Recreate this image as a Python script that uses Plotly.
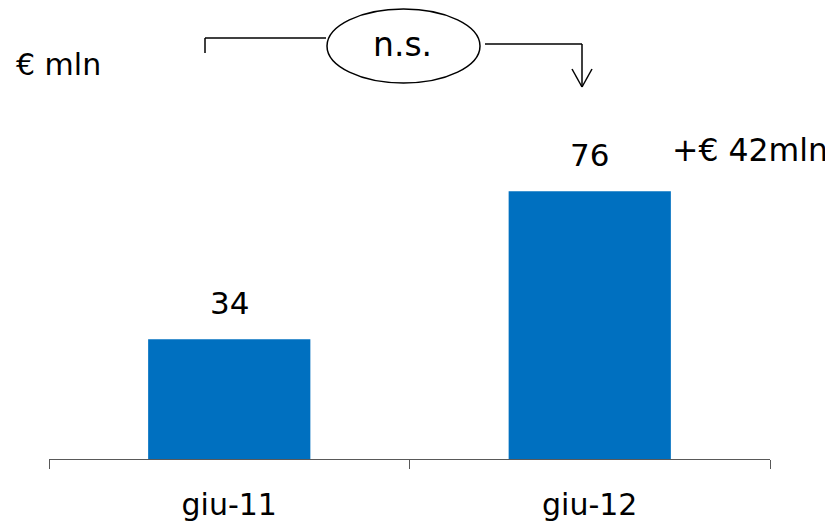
import plotly.graph_objects as go

categories = ["giu-11", "giu-12"]
values = [34, 76]
value_labels = ["34", "76"]
unit_label = "€ mln"
delta_label = "+€ 42mln"
test_label = "n.s."

# page has an 8px body margin; figure sized to fit the 833x523 window
OFF = 8
W, H = 833 - OFF, 523 - OFF
L = 49 - OFF
R = W - (770 - OFF)
B = H - (459 - OFF)
T = 0
PW, PH = W - L - R, H - T - B

def px(x):
    return (x - OFF - L) / PW

def py(y):
    return (H - B - (y - OFF)) / PH

FONT = "DejaVu Sans"
BAR_COLOR = "#0070C0"

fig = go.Figure()
fig.add_trace(go.Bar(
    x=categories, y=values, width=0.45,
    marker=dict(color=BAR_COLOR, line=dict(width=0)),
    hoverinfo="skip",
))

annotations = []
for c, v, t in zip(categories, values, value_labels):
    annotations.append(dict(x=c, y=v, xref="x", yref="y", text=t, showarrow=False,
                            yanchor="bottom", yshift=16,
                            font=dict(family=FONT, size=31, color="#000000")))

annotations.append(dict(x=px(14), y=py(65), xref="paper", yref="paper", text=unit_label,
                        showarrow=False, xanchor="left", yanchor="middle",
                        font=dict(family=FONT, size=30, color="#000000")))
annotations.append(dict(x=px(830), y=py(150), xref="paper", yref="paper", text=delta_label,
                        showarrow=False, xanchor="right", yanchor="middle",
                        font=dict(family=FONT, size=31.5, color="#000000")))
annotations.append(dict(x=px(402), y=py(44), xref="paper", yref="paper", text=test_label,
                        showarrow=False, xanchor="center", yanchor="middle",
                        font=dict(family=FONT, size=33, color="#000000")))

line = dict(color="#000000", width=1.5)
shapes = [
    dict(type="line", xref="paper", yref="paper", x0=px(205), y0=py(38), x1=px(205), y1=py(53), line=line),
    dict(type="line", xref="paper", yref="paper", x0=px(205), y0=py(38), x1=px(326), y1=py(38), line=line),
    dict(type="circle", xref="paper", yref="paper", x0=px(327), y0=py(9), x1=px(480), y1=py(83), line=line),
    dict(type="line", xref="paper", yref="paper", x0=px(485), y0=py(44), x1=px(582), y1=py(44), line=line),
    dict(type="line", xref="paper", yref="paper", x0=px(582), y0=py(44), x1=px(582), y1=py(87), line=line),
    dict(type="line", xref="paper", yref="paper", x0=px(572), y0=py(69), x1=px(582), y1=py(87), line=line),
    dict(type="line", xref="paper", yref="paper", x0=px(592), y0=py(69), x1=px(582), y1=py(87), line=line),
]

fig.update_layout(
    width=W, height=H,
    margin=dict(l=L, r=R, t=T, b=B),
    paper_bgcolor="#ffffff", plot_bgcolor="#ffffff",
    showlegend=False,
    annotations=annotations,
    shapes=shapes,
    xaxis=dict(type="category", showline=True, linecolor="#595959", linewidth=1,
               ticks="outside", tickson="boundaries", ticklen=9, tickcolor="#595959",
               tickwidth=1, showgrid=False, zeroline=False,
               tickfont=dict(family=FONT, size=30, color="#000000"),
               ticklabelstandoff=19),
    yaxis=dict(range=[0, 128], visible=False, showgrid=False, zeroline=False),
)

fig.write_html("out.html")
